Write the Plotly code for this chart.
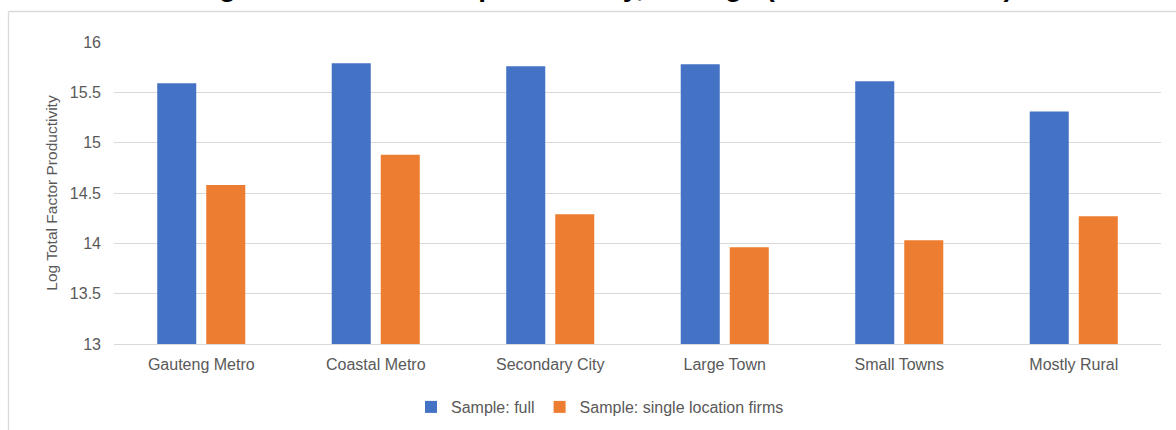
import plotly.graph_objects as go

# Settlement types on the category axis
categories = ["Gauteng Metro", "Coastal Metro", "Secondary City",
              "Large Town", "Small Towns", "Mostly Rural"]

# Average log TFP per settlement type, by sample
full_sample = [15.59, 15.79, 15.76, 15.78, 15.61, 15.31]
single_location = [14.58, 14.88, 14.29, 13.96, 14.03, 14.27]

series_names = ["Sample: full", "Sample: single location firms"]
y_ticks = [13, 13.5, 14, 14.5, 15, 15.5, 16]
y_tick_text = ["13", "13.5", "14", "14.5", "15", "15.5", "16"]

title_text = "Figure 8: Total factor productivity, average (Levinsohn-Petrin)"
y_title = "Log Total Factor Productivity"

# Canvas and plot-area geometry (pixels)
W, H = 1176, 430
ML, MR, MT, MB = 114, 15, 42, 86
PW = W - ML - MR
PH = H - MT - MB


def paper_x(px):
    return (px - ML) / PW


def paper_y(py):
    return 1 - (py - MT) / PH


FONT = "Liberation Sans, Arial, sans-serif"
GREY_TEXT = "#595959"
GRID = "#d9d9d9"

fig = go.Figure()
fig.add_trace(go.Bar(x=categories, y=full_sample, name=series_names[0],
                     marker=dict(color="#4472C4", line=dict(width=0))))
fig.add_trace(go.Bar(x=categories, y=single_location, name=series_names[1],
                     marker=dict(color="#ED7D31", line=dict(width=0))))

fig.update_layout(
    width=W, height=H,
    margin=dict(l=ML, r=MR, t=MT, b=MB, pad=0, autoexpand=False),
    paper_bgcolor="white", plot_bgcolor="white",
    barmode="group", bargap=0.438, bargroupgap=0.204,
    font=dict(family=FONT, size=16, color=GREY_TEXT),
    showlegend=True,
    legend=dict(orientation="h", x=paper_x(600), xanchor="center",
                y=paper_y(407), yanchor="middle",
                font=dict(family=FONT, size=16, color=GREY_TEXT),
                itemwidth=30, traceorder="normal"),
    xaxis=dict(showgrid=False, showline=True, linecolor=GRID, linewidth=1.3,
               ticks="", tickfont=dict(size=16, color=GREY_TEXT),
               ticklabelstandoff=6, automargin=False),
    yaxis=dict(range=[13, 16], tickvals=y_ticks, ticktext=y_tick_text,
               showgrid=True, gridcolor=GRID, gridwidth=1.3,
               zeroline=False, showline=False, ticks="",
               tickfont=dict(size=16, color=GREY_TEXT),
               ticklabelstandoff=12, automargin=False,
               title=dict(text=y_title, standoff=8,
                          font=dict(size=15.5, color=GREY_TEXT))),
    annotations=[
        dict(text="<b>" + title_text + "</b>", xref="paper", yref="paper",
             x=paper_x(603.5), y=paper_y(4), xanchor="center",
             yanchor="bottom", showarrow=False,
             font=dict(family=FONT, size=28, color="black")),
    ],
    shapes=[
        # chart-area border (left and top edges visible)
        dict(type="line", xref="paper", yref="paper",
             x0=paper_x(8.5), x1=paper_x(W + 5), y0=paper_y(11.5), y1=paper_y(11.5),
             line=dict(color=GRID, width=1.3)),
        dict(type="line", xref="paper", yref="paper",
             x0=paper_x(8.5), x1=paper_x(8.5), y0=paper_y(11.5), y1=paper_y(H + 5),
             line=dict(color=GRID, width=1.3)),
    ],
)

fig.write_html("out.html")
